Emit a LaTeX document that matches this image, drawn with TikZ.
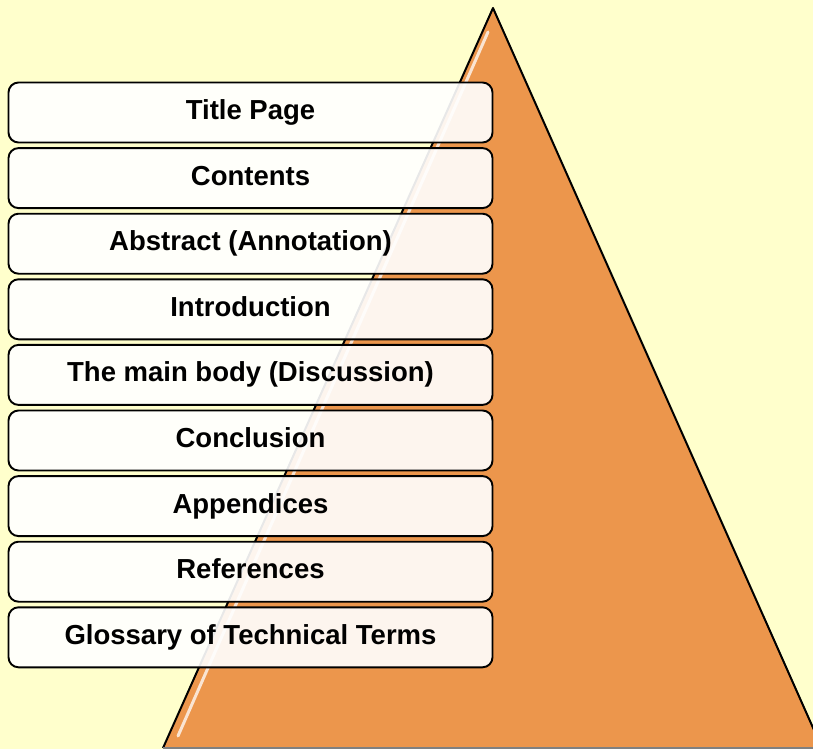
\documentclass[tikz,border=0pt]{standalone}
\usepackage{fontspec}
\setmainfont{Liberation Sans}
\usetikzlibrary{positioning}
\definecolor{bgyellow}{RGB}{255,255,204}
\definecolor{pyramid}{RGB}{236,150,76}

\begin{document}
\begin{tikzpicture}[x=1pt, y=-1pt, node distance=3.7pt, every node/.style={font=\fontsize{27.5}{30}\selectfont\bfseries}]
\tikzset{box/.style={draw, line width=1.9pt, rounded corners=10pt, fill=white, fill opacity=0.91, text opacity=1, minimum width=484pt, minimum height=60pt, inner sep=0pt, text height=20pt, text depth=6pt}}
\fill[bgyellow] (0,0) rectangle (813,749);
\useasboundingbox (0,0) rectangle (813,749);
% pyramid behind the list
\coordinate (apex) at (493,8);
\coordinate (baseL) at (163,748);
\coordinate (baseR) at (822,748);
\coordinate (shineT) at (488,32);
\coordinate (shineB) at (178,736);
\fill[pyramid] (apex) -- (baseL) -- (baseR) -- cycle;
\draw[white, line width=3pt, opacity=0.75, line cap=round] (shineT) -- (shineB);
\draw[line width=2pt, line join=round] (baseL) -- (apex) -- (baseR);
\draw[gray, line width=1.2pt] (baseL) -- (baseR);
% report sections
\node[box] (title) at (250.5,112.5) {Title Page};
\node[box, below=of title] (contents) {Contents};
\node[box, below=of contents] (abstract) {Abstract (Annotation)};
\node[box, below=of abstract] (intro) {Introduction};
\node[box, below=of intro] (body) {The main body (Discussion)};
\node[box, below=of body] (concl) {Conclusion};
\node[box, below=of concl] (append) {Appendices};
\node[box, below=of append] (refs) {References};
\node[box, below=of refs] (gloss) {Glossary of Technical Terms};
\end{tikzpicture}
\end{document}
